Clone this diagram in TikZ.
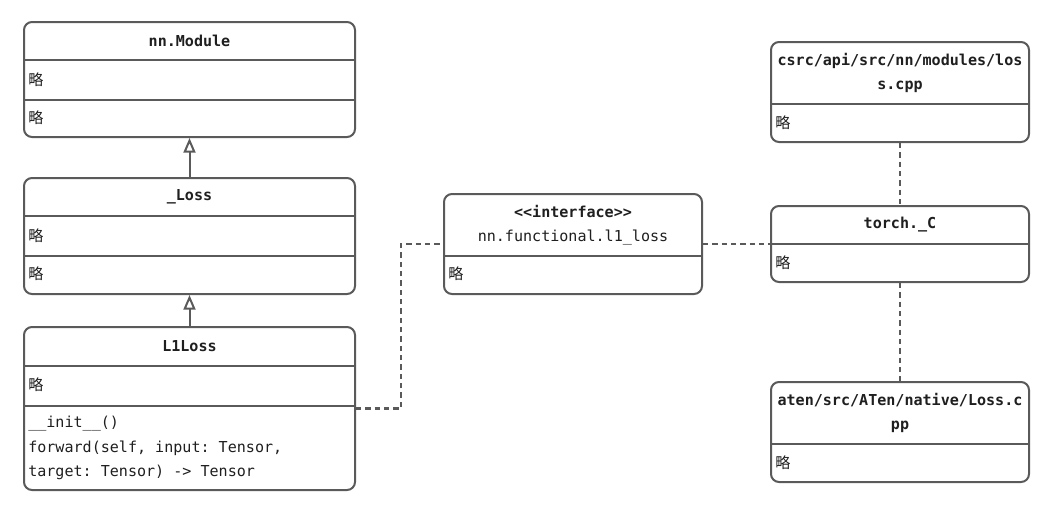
\documentclass[tikz,border=0pt]{standalone}
\usepackage{fontspec}
\setmonofont{DejaVu Sans Mono}
\newfontfamily\cjk{Noto Sans CJK SC}
\usepackage{xcolor}
\usetikzlibrary{arrows.meta,fit,positioning}
\definecolor{umlgray}{HTML}{5A5A5A}
\definecolor{umltext}{HTML}{1F1F1F}

\begin{document}
\begin{tikzpicture}[x=0.75pt,y=-0.75pt,
  cls/.style={draw=umlgray,line width=1.5pt,rounded corners=6pt,inner sep=0pt,fill=white},
  sep/.style={draw=umlgray,line width=1.5pt},
  title/.style={font=\ttfamily\bfseries\fontsize{11.3}{18.4}\selectfont,text=umltext,align=center,inner sep=0pt},
  item/.style={font=\ttfamily\fontsize{11.3}{18.4}\selectfont,text=umltext,anchor=west,align=left,inner sep=0pt},
  hollow/.style={-{Triangle[open,length=11pt,width=9pt]},draw=umlgray,line width=1.5pt},
  dep/.style={draw=umlgray,line width=1.6pt,dash pattern=on 4pt off 3pt}
]
\useasboundingbox (0,0) rectangle (1053,526);

% class boxes
\node[cls,fit={(24,22) (355,137)}] (mod) {};
\node[cls,fit={(24,178) (355,294)}] (loss) {};
\node[cls,fit={(24,327) (355,490)}] (lone) {};
\node[cls,fit={(444,194) (702,294)}] (iface) {};
\node[cls,fit={(771,42) (1029,142)}] (csrc) {};
\node[cls,fit={(771,206) (1029,282)}] (torchc) {};
\node[cls,fit={(771,382) (1029,482)}] (aten) {};

% compartments
\draw[sep] (24,60) -- (355,60) (24,100) -- (355,100);
\draw[sep] (24,216) -- (355,216) (24,256) -- (355,256);
\draw[sep] (24,366) -- (355,366) (24,406) -- (355,406);
\draw[sep] (444,256) -- (702,256);
\draw[sep] (771,104) -- (1029,104);
\draw[sep] (771,244) -- (1029,244);
\draw[sep] (771,444) -- (1029,444);

% texts
\node[title] (mod-name) at (189.5,41) {nn.Module};
\node[item] (mod-a) at (28,80) {\cjk 略};
\node[item] (mod-b) at (28,118) {\cjk 略};

\node[title] (loss-name) at (189.5,197) {\_Loss};
\node[item] (loss-a) at (28,236) {\cjk 略};
\node[item] (loss-b) at (28,274) {\cjk 略};

\node[title] (lone-name) at (189.5,346) {L1Loss};
\node[item] (lone-a) at (28,385) {\cjk 略};
\node[item] (lone-ops) at (28,448) {\_\_init\_\_()\\forward(self, input: Tensor,\\target: Tensor) -> Tensor};

\node[title] (iface-name) at (573,225) {<<interface>>\\\mdseries nn.functional.l1\_loss};
\node[item] (iface-a) at (448,274) {\cjk 略};

\node[title] (csrc-name) at (900,73) {csrc/api/src/nn/modules/los\\s.cpp};
\node[item] (csrc-a) at (775,123) {\cjk 略};

\node[title] (torchc-name) at (900,225) {torch.\_C};
\node[item] (torchc-a) at (775,263) {\cjk 略};

\node[title] (aten-name) at (900,413) {aten/src/ATen/native/Loss.c\\pp};
\node[item] (aten-a) at (775,463) {\cjk 略};

% connectors
\draw[hollow] (loss.north) -- (mod.south);
\draw[hollow] (lone.north) -- (loss.south);
\draw[dep] (lone.east) -- ++(45,0) |- (iface.west);
\draw[dep] (iface.east) -- (torchc.west);
\draw[dep] (csrc.south) -- (torchc.north);
\draw[dep] (torchc.south) -- (aten.north);
\end{tikzpicture}
\end{document}
